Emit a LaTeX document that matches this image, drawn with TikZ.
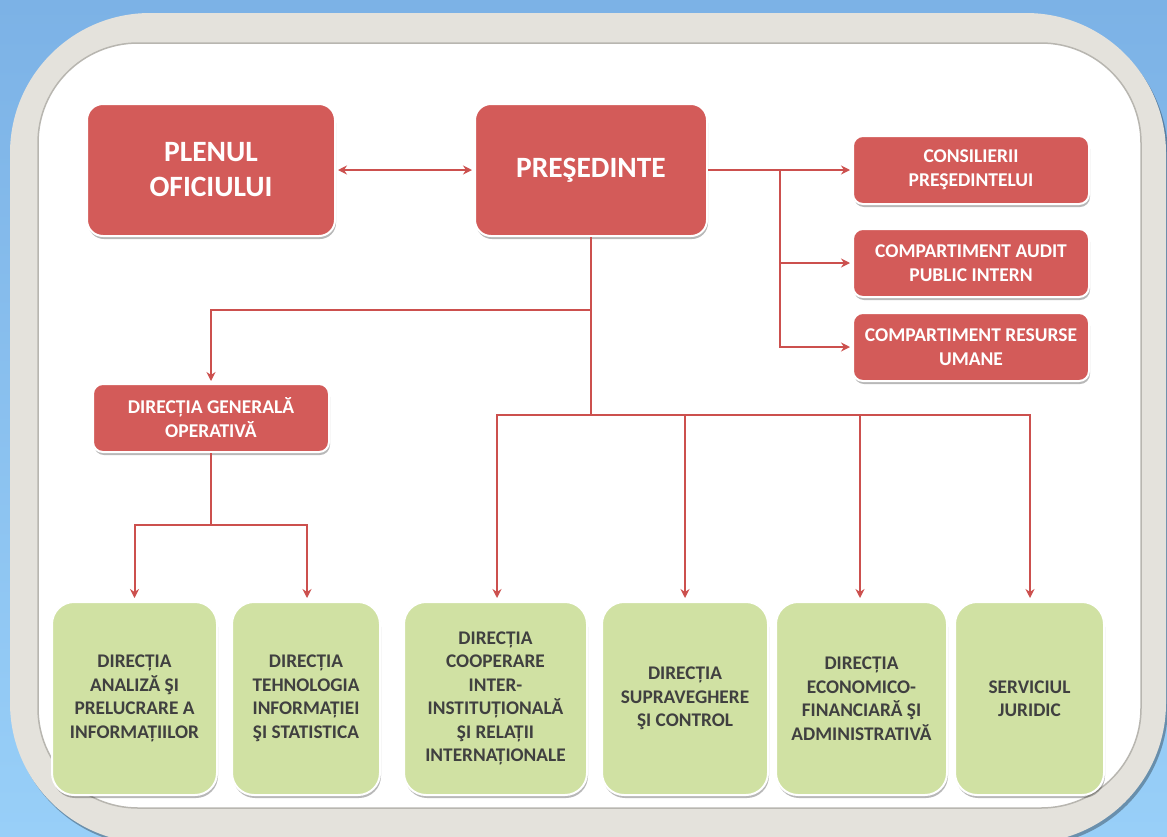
\documentclass[tikz,border=0pt]{standalone}
\usepackage{fontspec}
\setmainfont{Carlito}
\usetikzlibrary{shadows,arrows.meta,calc}

\definecolor{bgtop}{HTML}{7CB2E6}
\definecolor{bgbot}{HTML}{98CFF8}
\definecolor{frameface}{HTML}{E4E2DC}
\definecolor{framerim}{HTML}{B8B6B0}
\definecolor{boxred}{HTML}{D35B59}
\definecolor{boxgreen}{HTML}{D0E1A3}
\definecolor{greentext}{HTML}{404040}
\definecolor{linkred}{HTML}{CC504E}

\begin{document}
\begin{tikzpicture}[x=1pt,y=-1pt,
  link/.style={draw=linkred, line width=2pt},
  arrowlink/.style={link, -{Stealth[length=9pt,width=9pt,inset=3pt]}},
  softshadow/.style={drop shadow={shadow xshift=1pt, shadow yshift=-3pt, opacity=.28, fill=black}},
  redbox/.style={draw=white, line width=2pt, fill=boxred, text=white,
    align=center, inner sep=0pt, softshadow},
  bigred/.style={redbox, rounded corners=16pt, minimum width=248pt, minimum height=132pt,
    font=\fontsize{29.5}{35}\selectfont\bfseries},
  smallred/.style={redbox, rounded corners=10pt, minimum width=236pt, minimum height=68pt,
    font=\fontsize{19.5}{24}\selectfont\bfseries},
  greenbox/.style={draw=white, line width=2pt, fill=boxgreen, text=greentext,
    rounded corners=22pt, minimum height=193pt, align=center, inner sep=0pt,
    font=\fontsize{19.3}{23.5}\selectfont\bfseries, softshadow},
]
\useasboundingbox (0,0) rectangle (1167,836);

% backdrop and silver frame
\fill[top color=bgtop, bottom color=bgbot] (0,0) rectangle (1167,836);
\fill[frameface, drop shadow={shadow xshift=2pt, shadow yshift=-3pt, opacity=.3, fill=black}]
  (10,13) [rounded corners=140pt] rectangle (1166,843);
\fill[white, draw=framerim, line width=1.5pt] (38,43) [rounded corners=100pt] rectangle (1141,808);

% top level
\node[bigred] (plen) at (211,170) {PLENUL\\OFICIULUI};
\node[bigred, minimum width=232pt] (pres) at (591,170) {PREŞEDINTE};

% president's staff
\node[smallred] (cons) at (971,170) {CONSILIERII\\PREŞEDINTELUI};
\node[smallred] (audit) at (971,263) {COMPARTIMENT AUDIT\\PUBLIC INTERN};
\node[smallred] (hr) at (971,347) {COMPARTIMENT RESURSE\\UMANE};

% general operative directorate
\node[smallred] (dgo) at (211,418) {DIRECȚIA GENERALĂ\\OPERATIVĂ};

% directorates
\node[greenbox, minimum width=165pt] (g1) at (134.5,698.5) {DIRECȚIA\\ANALIZĂ ŞI\\PRELUCRARE A\\INFORMAȚIILOR};
\node[greenbox, minimum width=148pt] (g2) at (306,698.5) {DIRECȚIA\\TEHNOLOGIA\\INFORMAȚIEI\\ŞI STATISTICA};
\node[greenbox, minimum width=183pt] (g3) at (495.5,698.5) {DIRECȚIA\\COOPERARE\\INTER-\\INSTITUȚIONALĂ\\ŞI RELAȚII\\INTERNAȚIONALE};
\node[greenbox, minimum width=166pt] (g4) at (685,698.5) {DIRECȚIA\\SUPRAVEGHERE\\ŞI CONTROL};
\node[greenbox, minimum width=171pt] (g5) at (861.5,698.5) {DIRECȚIA\\ECONOMICO-\\FINANCIARĂ ŞI\\ADMINISTRATIVĂ};
\node[greenbox, minimum width=149pt] (g6) at (1029.5,698.5) {SERVICIUL\\JURIDIC};

% junction points
\coordinate (rb) at (780,170);
\coordinate (pj) at (591,310);
\coordinate (mj) at (591,415);
\coordinate (dj) at (211,525);
\coordinate (g5in) at ([xshift=-1.5pt]g5.north);

% connectors
\draw[link, {Stealth[length=9pt,width=9pt,inset=3pt]}-{Stealth[length=9pt,width=9pt,inset=3pt]},
  shorten <=2pt, shorten >=2pt] (plen.east) -- (pres.west);
\draw[arrowlink, shorten >=2pt] (pres.east) -- (cons.west);
\draw[arrowlink, shorten >=2pt] (rb) |- (audit.west);
\draw[arrowlink, shorten >=2pt] (rb) |- (hr.west);

\draw[link] (pres.south) -- (mj);
\draw[arrowlink, shorten >=2pt] (pj) -| (dgo.north);
\draw[arrowlink, shorten >=3pt] (mj) -| ([xshift=1.5pt]g3.north);
\draw[arrowlink, shorten >=3pt] (mj -| g4.north) -- (g4.north);
\draw[arrowlink, shorten >=3pt] (mj -| g5in) -- (g5in);
\draw[arrowlink, shorten >=3pt] (mj) -| ([xshift=0.5pt]g6.north);

\draw[link] (dgo.south) -- (dj);
\draw[arrowlink, shorten >=3pt] (dj) -| (g1.north);
\draw[arrowlink, shorten >=3pt] (dj) -| ([xshift=1pt]g2.north);
\end{tikzpicture}
\end{document}
